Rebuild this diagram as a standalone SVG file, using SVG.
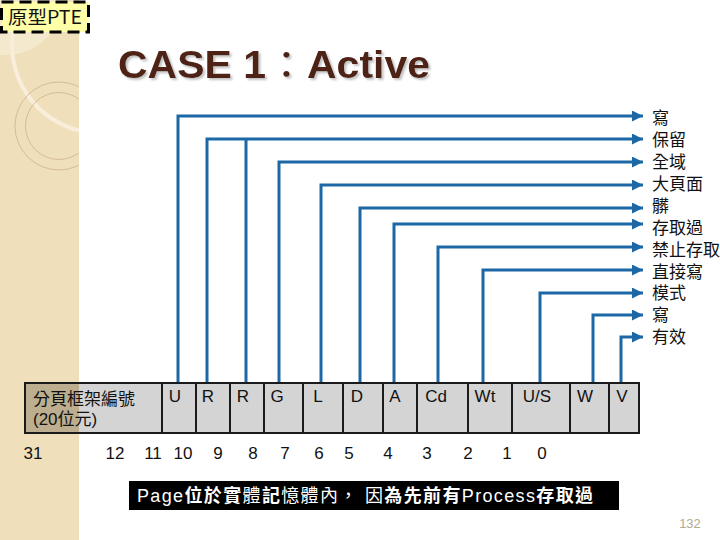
<svg xmlns="http://www.w3.org/2000/svg" width="720" height="540" viewBox="0 0 720 540">
<defs>
<style>
.lbl{font-family:"Liberation Sans","Noto Sans CJK TC",sans-serif;font-size:17px;fill:#111}
.cell{font-family:"Liberation Sans","Noto Sans CJK TC",sans-serif;font-size:17px;fill:#111;text-anchor:middle}
.bit{font-family:"Liberation Sans",sans-serif;font-size:17px;fill:#111;text-anchor:middle}
.conn{fill:none;stroke:#1c68a6;stroke-width:3}
.box{stroke:#1a1a1a;stroke-width:2}
</style>
<filter id="shadow" x="-5%" y="-20%" width="110%" height="150%">
<feDropShadow dx="2" dy="2" stdDeviation="0.8" flood-color="#bbbbbb" flood-opacity="0.9"/>
</filter>
<marker id="ah" viewBox="0 0 10 10" refX="10" refY="5" markerUnits="userSpaceOnUse" markerWidth="11" markerHeight="11" orient="auto">
<path d="M0,0 L10,5 L0,10 z" fill="#1c68a6"/>
</marker>
<clipPath id="stripe"><rect x="0" y="0" width="79" height="540"/></clipPath>
</defs>
<rect x="0" y="0" width="720" height="540" fill="#ffffff"/>
<g id="background">
<rect x="0" y="0" width="79" height="540" fill="#efdfba"/>
<g clip-path="url(#stripe)">
<circle cx="5" cy="-5" r="60" fill="#f4e8cd"/>
<circle cx="100" cy="45" r="88" fill="none" stroke="#f8eedb" stroke-width="4"/>
<circle cx="59" cy="126" r="44" fill="none" stroke="#cdb48c" stroke-width="0.8"/>
<circle cx="59" cy="126" r="33.5" fill="none" stroke="#cdb48c" stroke-width="0.8"/>
</g>
</g>
<g id="tag">
<rect x="1.5" y="2" width="87" height="30" fill="#ffffa8" stroke="#000" stroke-width="3" stroke-dasharray="12,6"/>
<text x="8" y="24" font-family="'Noto Sans CJK TC','Liberation Sans',sans-serif" font-size="18" fill="#111" textLength="74" lengthAdjust="spacingAndGlyphs">原型PTE</text>
</g>
<g id="title">
<text x="118" y="78" font-family="'Liberation Sans','Noto Sans CJK TC',sans-serif" font-size="38" font-weight="bold" fill="#4f2214" textLength="312" lengthAdjust="spacingAndGlyphs" filter="url(#shadow)">CASE 1<tspan font-weight="normal">：</tspan>Active</text>
</g>
<g id="connectors">
<path class="conn" d="M178,383 V116 H643" marker-end="url(#ah)"/>
<path class="conn" d="M207,383 V139 H643" marker-end="url(#ah)"/>
<path class="conn" d="M246,383 V139"/>
<path class="conn" d="M279,383 V162 H643" marker-end="url(#ah)"/>
<path class="conn" d="M321,383 V185 H643" marker-end="url(#ah)"/>
<path class="conn" d="M360,383 V208 H643" marker-end="url(#ah)"/>
<path class="conn" d="M394,383 V224 H643" marker-end="url(#ah)"/>
<path class="conn" d="M438,383 V247 H643" marker-end="url(#ah)"/>
<path class="conn" d="M483,383 V270 H643" marker-end="url(#ah)"/>
<path class="conn" d="M540,383 V293 H643" marker-end="url(#ah)"/>
<path class="conn" d="M593,383 V315 H643" marker-end="url(#ah)"/>
<path class="conn" d="M621,383 V337 H643" marker-end="url(#ah)"/>
</g>
<g id="labels">
<text class="lbl" x="652" y="124">寫</text>
<text class="lbl" x="652" y="146">保留</text>
<text class="lbl" x="652" y="168">全域</text>
<text class="lbl" x="652" y="190">大頁面</text>
<text class="lbl" x="652" y="212">髒</text>
<text class="lbl" x="652" y="234">存取過</text>
<text class="lbl" x="652" y="256">禁止存取</text>
<text class="lbl" x="652" y="278">直接寫</text>
<text class="lbl" x="652" y="299">模式</text>
<text class="lbl" x="652" y="321">寫</text>
<text class="lbl" x="652" y="343">有效</text>
</g>
<g id="register">
<rect class="box" x="25" y="383" width="614" height="50" fill="#d4d4d4"/>
<rect x="26" y="384" width="53" height="48" fill="#bcae8f"/>
<g class="box" fill="none">
<line x1="162" y1="383" x2="162" y2="433"/>
<line x1="196" y1="383" x2="196" y2="433"/>
<line x1="230" y1="383" x2="230" y2="433"/>
<line x1="264" y1="383" x2="264" y2="433"/>
<line x1="303" y1="383" x2="303" y2="433"/>
<line x1="343" y1="383" x2="343" y2="433"/>
<line x1="383" y1="383" x2="383" y2="433"/>
<line x1="417" y1="383" x2="417" y2="433"/>
<line x1="468" y1="383" x2="468" y2="433"/>
<line x1="512" y1="383" x2="512" y2="433"/>
<line x1="570" y1="383" x2="570" y2="433"/>
<line x1="609" y1="383" x2="609" y2="433"/>
</g>
<text class="lbl" x="33" y="405" font-size="16">分頁框架編號</text>
<text class="lbl" x="33" y="425" font-size="16">(20位元)</text>
<text class="cell" x="175" y="402">U</text>
<text class="cell" x="208" y="402">R</text>
<text class="cell" x="243" y="402">R</text>
<text class="cell" x="277" y="402">G</text>
<text class="cell" x="318" y="402">L</text>
<text class="cell" x="357" y="402">D</text>
<text class="cell" x="395" y="402">A</text>
<text class="cell" x="436" y="402">Cd</text>
<text class="cell" x="485" y="402">Wt</text>
<text class="cell" x="537" y="402">U/S</text>
<text class="cell" x="585" y="402">W</text>
<text class="cell" x="622" y="402">V</text>
</g>
<g id="bits">
<text class="bit" x="33" y="459">31</text>
<text class="bit" x="115" y="459">12</text>
<text class="bit" x="153" y="459">11</text>
<text class="bit" x="183" y="459">10</text>
<text class="bit" x="218" y="459">9</text>
<text class="bit" x="253" y="459">8</text>
<text class="bit" x="285" y="459">7</text>
<text class="bit" x="319" y="459">6</text>
<text class="bit" x="349" y="459">5</text>
<text class="bit" x="388" y="459">4</text>
<text class="bit" x="427" y="459">3</text>
<text class="bit" x="468" y="459">2</text>
<text class="bit" x="507" y="459">1</text>
<text class="bit" x="542" y="459">0</text>
</g>
<g id="note">
<rect x="129" y="481" width="490" height="29" fill="#000"/>
<text x="137" y="502" font-family="'Liberation Sans','Noto Sans CJK TC',sans-serif" font-size="18" fill="#fff" textLength="456" lengthAdjust="spacing">Page<tspan font-weight="bold">位於實</tspan>體<tspan font-weight="bold">記</tspan>憶體內， 因<tspan font-weight="bold">為先前有</tspan>Process<tspan font-weight="bold">存取過</tspan></text>
</g>
<text x="690" y="528" font-family="'Liberation Sans',sans-serif" font-size="13" fill="#b3aa90" text-anchor="middle">132</text>
</svg>
